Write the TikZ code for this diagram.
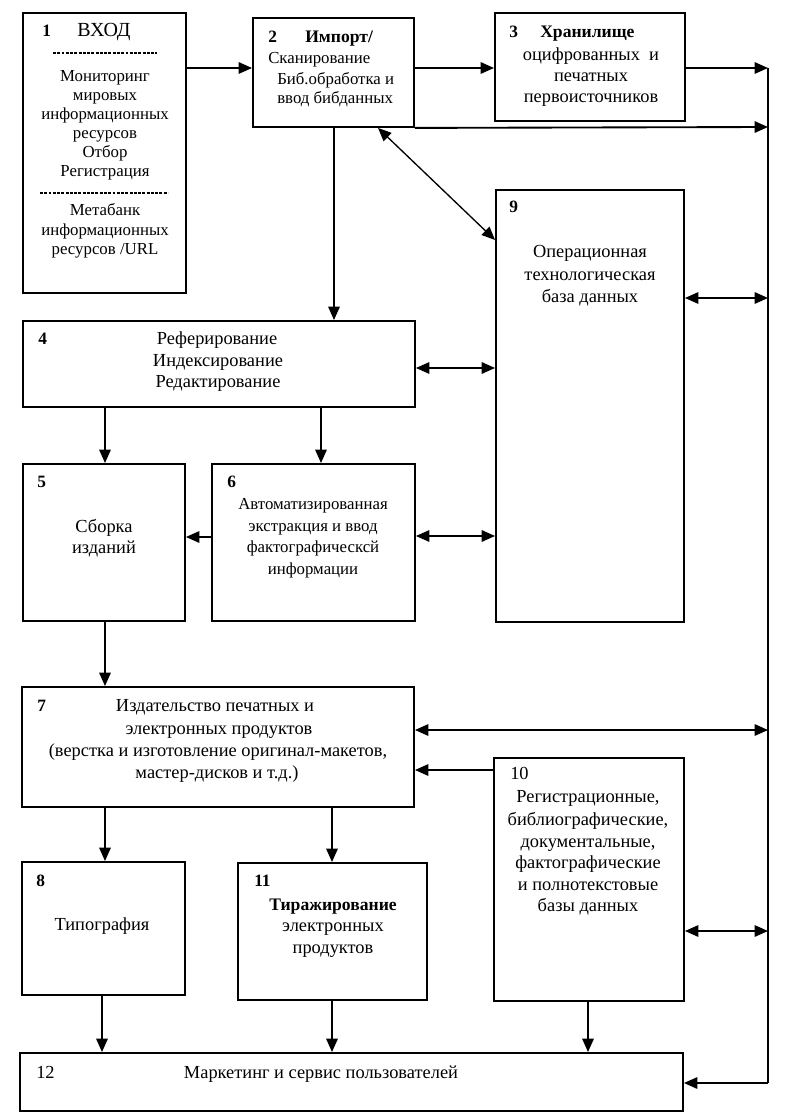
\documentclass[tikz,border=0pt]{standalone}
\usepackage{fontspec}
\setmainfont{Liberation Serif}
\usetikzlibrary{arrows.meta,fit}
\begin{document}
\begin{tikzpicture}[x=0.75pt,y=-0.75pt,
  box/.style={draw, line width=1.4pt, inner sep=0pt},
  txt/.style={font=\fontsize{13.8}{15}\selectfont, inner sep=0pt, text height=0.62em, text depth=0pt},
  stxt/.style={txt, font=\fontsize{12.6}{14}\selectfont},
  btxt/.style={txt, font=\fontsize{13.2}{15}\selectfont\bfseries},
  num/.style={txt, font=\fontsize{13}{15}\selectfont\bfseries, anchor=west},
  ln/.style={line width=1.4pt},
  arr/.style={line width=1.4pt, -{Triangle[length=10pt,width=8.5pt]}},
  darr/.style={line width=1.4pt, {Triangle[length=10pt,width=8.5pt]}-{Triangle[length=10pt,width=8.5pt]}},
  dsh/.style={line width=1pt, dash pattern=on 2.2pt off 1pt}
]
\useasboundingbox (0,0) rectangle (791,1119);

% boxes
\node[box, fit={(23,13) (186,293)}] (b1) {};
\node[box, fit={(253,18) (414,127)}] (b2) {};
\node[box, fit={(495,13) (685,121)}] (b3) {};
\node[box, fit={(23,321) (415,407)}] (b4) {};
\node[box, fit={(23,464) (185,621)}] (b5) {};
\node[box, fit={(212,464) (415,621)}] (b6) {};
\node[box, fit={(22,687) (414,807)}] (b7) {};
\node[box, fit={(22,862) (185,995)}] (b8) {};
\node[box, fit={(496,190) (684,622)}] (b9) {};
\node[box, fit={(494,758) (684,1001)}] (b10) {};
\node[box, fit={(238,863) (427,1000)}] (b11) {};
\node[box, fit={(20,1053) (683,1111)}] (b12) {};

% box 1 text
\node[num] (n1) at (42,32) {1};
\node[txt, anchor=west, font=\fontsize{15}{17}\selectfont] (t1h) at (77,32) {ВХОД};
\coordinate (d1a) at (53,53); \coordinate (d1b) at (157,53);
\draw[dsh] (d1a) -- (d1b);
\node[stxt] (t1a) at (105,77) {Мониторинг};
\node[stxt] (t1b) at (105,96) {мировых};
\node[stxt] (t1c) at (105,115) {информационных};
\node[stxt] (t1d) at (105,134) {ресурсов};
\node[stxt] (t1e) at (105,153) {Отбор};
\node[stxt] (t1f) at (105,172) {Регистрация};
\coordinate (d2a) at (40,193); \coordinate (d2b) at (168,193);
\draw[dsh] (d2a) -- (d2b);
\node[stxt] (t1g) at (105,211) {Метабанк};
\node[stxt] (t1i) at (105,231) {информационных};
\node[stxt] (t1j) at (105,250) {ресурсов /URL};

% box 2 text
\node[num] (n2) at (268,38) {2};
\node[btxt, anchor=west] (t2a) at (305,38) {Импорт/};
\node[stxt, anchor=west] (t2b) at (268,59) {Сканирование};
\node[stxt, anchor=west] (t2c) at (277,80) {Биб.обработка и};
\node[stxt, anchor=west] (t2d) at (277,99) {ввод бибданных};

% box 3 text
\node[num] (n3) at (509,33) {3};
\node[btxt, anchor=west] (t3a) at (540,33) {Хранилище};
\node[txt] (t3b) at (591,56) {оцифрованных\ \ и};
\node[txt] (t3c) at (591,77) {печатных};
\node[txt] (t3d) at (591,98) {первоисточников};

% box 9 text
\node[num] (n9) at (509,208) {9};
\node[txt] (t9a) at (590,253) {Операционная};
\node[txt] (t9b) at (590,276) {технологическая};
\node[txt] (t9c) at (590,298) {база данных};

% box 4 text
\node[num] (n4) at (38,340) {4};
\node[txt] (t4a) at (217,340) {Реферирование};
\node[txt] (t4b) at (218,362) {Индексирование};
\node[txt] (t4c) at (218,383) {Редактирование};

% box 5 text
\node[num] (n5) at (37,483) {5};
\node[txt] (t5a) at (104,528) {Сборка};
\node[txt] (t5b) at (104,549) {изданий};

% box 6 text
\node[num] (n6) at (227,483) {6};
\node[stxt] (t6a) at (313,505) {Автоматизированная};
\node[stxt] (t6b) at (313,527) {экстракция и ввод};
\node[stxt] (t6c) at (313,548) {фактографическсй};
\node[stxt] (t6d) at (313,570) {информации};

% box 7 text
\node[num] (n7) at (37,707) {7};
\node[txt] (t7a) at (215,707) {Издательство печатных и};
\node[txt] (t7b) at (219,730) {электронных продуктов};
\node[txt] (t7c) at (218,752) {(верстка и изготовление оригинал-макетов,};
\node[txt] (t7d) at (217,774) {мастер-дисков и т.д.)};

% box 8 text
\node[num] (n8) at (36,882) {8};
\node[txt] (t8a) at (102,926) {Типография};

% box 11 text
\node[num] (n11) at (254,882) {11};
\node[btxt] (t11a) at (333,906) {Тиражирование};
\node[txt] (t11b) at (333,927) {электронных};
\node[txt] (t11c) at (333,949) {продуктов};

% box 10 text
\node[num, font=\fontsize{13.8}{15}\selectfont] (n10) at (510,775) {10};
\node[txt] (t10a) at (588,798) {Регистрационные,};
\node[txt] (t10b) at (588,821) {библиографические,};
\node[txt] (t10c) at (588,843) {документальные,};
\node[txt] (t10d) at (588,864) {фактографические};
\node[txt] (t10e) at (588,886) {и полнотекстовые};
\node[txt] (t10f) at (588,907) {базы данных};

% box 12 text
\node[num, font=\fontsize{13.8}{15}\selectfont] (n12) at (36,1074) {12};
\node[txt] (t12a) at (321,1074) {Маркетинг и сервис пользователей};

% helper coordinates
\coordinate (y68) at (0,68);
\coordinate (y240) at (0,240);
\coordinate (y368) at (0,368);
\coordinate (y537) at (0,537);
\coordinate (y536) at (0,536);
\coordinate (y730) at (0,730);
\coordinate (y770) at (0,770);
\coordinate (x105) at (105,0);
\coordinate (x102) at (102,0);
\coordinate (x321) at (321,0);
\coordinate (x334) at (334,0);
\coordinate (x332) at (332,0);
\coordinate (x378) at (378,0);
\coordinate (x588) at (588,0);
\coordinate (vtop) at (768,68);
\coordinate (v127) at (768,127);
\coordinate (v298) at (768,298);
\coordinate (v730) at (768,730);
\coordinate (v931) at (768,931);
\coordinate (vbot) at (768,1083);

% trunk line
\draw[ln] (vtop) -- (vbot);

% connectors
\draw[arr] (b1.east |- y68) -- (b2.west |- y68);
\draw[arr] (b2.east |- y68) -- (b3.west |- y68);
\draw[arr] (b3.east |- y68) -- (vtop);
\draw[arr] (b2.south east) -- (v127);
\draw[line width=1pt, {Triangle[length=10pt,width=8.5pt]}-{Triangle[length=10pt,width=8.5pt]}] (b2.south -| x378) -- (b9.west |- y240);
\draw[arr] (b2.south -| x334) -- (b4.north -| x334);
\draw[darr] (b9.east |- v298) -- (v298);
\draw[darr] (b4.east |- y368) -- (b9.west |- y368);
\draw[arr] (b4.south -| x105) -- (b5.north -| x105);
\draw[arr] (b4.south -| x321) -- (b6.north -| x321);
\draw[arr] (b6.west |- y537) -- (b5.east |- y537);
\draw[darr] (b6.east |- y536) -- (b9.west |- y536);
\draw[arr] (b5.south -| x105) -- (b7.north -| x105);
\draw[darr] (b7.east |- v730) -- (v730);
\draw[arr] (b10.west |- y770) -- (b7.east |- y770);
\draw[arr] (b7.south -| x105) -- (b8.north -| x105);
\draw[arr] (b7.south -| x332) -- (b11.north -| x332);
\draw[darr] (b10.east |- v931) -- (v931);
\draw[arr] (b8.south -| x102) -- (b12.north -| x102);
\draw[arr] (b11.south -| x332) -- (b12.north -| x332);
\draw[arr] (b10.south -| x588) -- (b12.north -| x588);
\draw[arr] (vbot) -- (b12.east |- vbot);
\end{tikzpicture}
\end{document}
